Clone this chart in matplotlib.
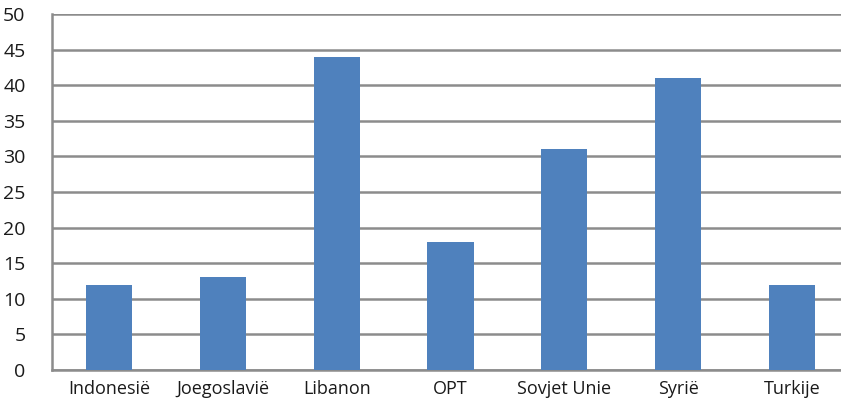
import matplotlib
matplotlib.use("Agg")
import matplotlib.pyplot as plt

categories = ["Indonesië", "Joegoslavië", "Libanon", "OPT", "Sovjet Unie", "Syrië", "Turkije"]
values = [12, 13, 44, 18, 31, 41, 12]
yticks = [0, 5, 10, 15, 20, 25, 30, 35, 40, 45, 50]

plt.rcParams['font.family'] = ['Open Sans', 'DejaVu Sans']
W, H = 841, 413
fig = plt.figure(figsize=(W/100, H/100), dpi=100)
ax = fig.add_axes([52/W, (H-370)/H, (W-52)/W, (370-14)/H])

x = list(range(len(categories)))
ax.bar(x, values, width=0.405, color="#4F81BD", zorder=3)
ax.set_ylim(0, 50)
ax.set_xlim(-0.5, 6.43)
ax.set_yticks(yticks)
ax.set_xticks(x)
ax.set_xticklabels(categories)
ax.yaxis.grid(True, color="#8C8C8C", linewidth=1.8, zorder=0)
for s in ["top", "right"]:
    ax.spines[s].set_visible(False)
for s in ["left", "bottom"]:
    ax.spines[s].set_color("#8C8C8C")
    ax.spines[s].set_linewidth(1.8)
ax.tick_params(axis="both", length=0, colors="#1a1a1a")
ax.tick_params(axis="y", pad=19, labelsize=14)
ax.tick_params(axis="x", pad=7, labelsize=13)
fig.savefig("out.png", dpi=100)
